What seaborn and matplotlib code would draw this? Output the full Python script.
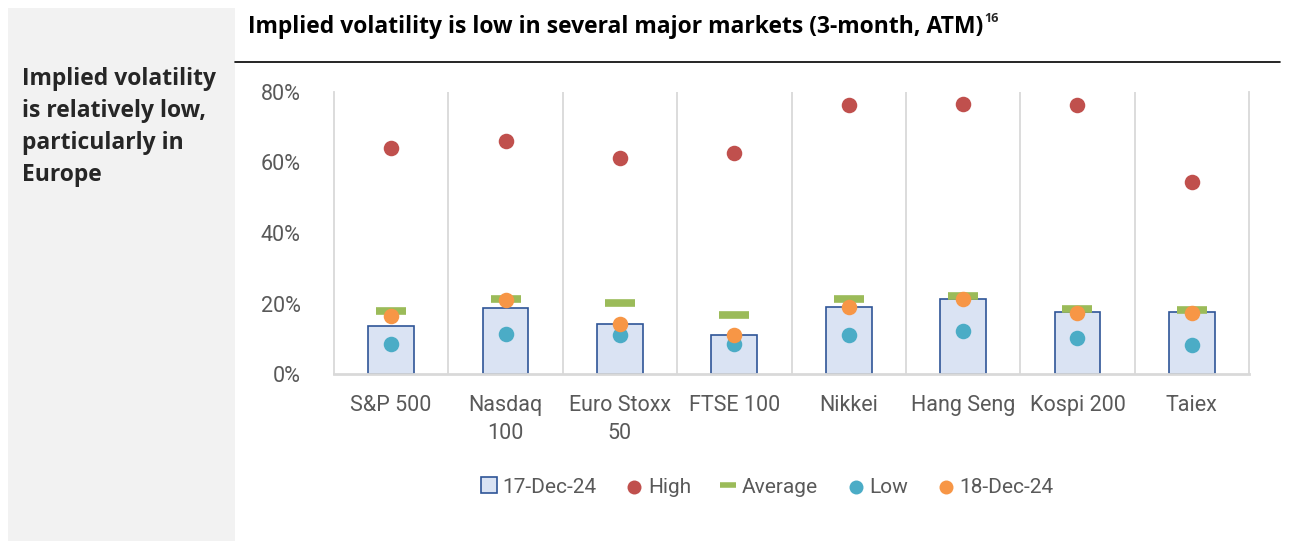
import numpy as np
import pandas as pd
import seaborn as sns
import matplotlib.pyplot as plt
from matplotlib.patches import Rectangle
from matplotlib.lines import Line2D

# Data (implied vol, 3-month ATM)
markets = ["S&P 500", "Nasdaq\n100", "Euro Stoxx\n50", "FTSE 100", "Nikkei",
           "Hang Seng", "Kospi 200", "Taiex"]
vol_17dec = [0.137, 0.186, 0.143, 0.110, 0.190, 0.212, 0.175, 0.175]
vol_high = [0.642, 0.661, 0.614, 0.627, 0.763, 0.766, 0.763, 0.545]
vol_avg = [0.180, 0.214, 0.202, 0.168, 0.214, 0.221, 0.184, 0.182]
vol_low = [0.084, 0.114, 0.110, 0.084, 0.112, 0.121, 0.102, 0.082]
vol_18dec = [0.165, 0.209, 0.142, 0.110, 0.191, 0.214, 0.172, 0.172]
y_ticks = [0.0, 0.2, 0.4, 0.6, 0.8]

# Colours
BAR_FILL = "#dae3f3"
BAR_EDGE = "#2f5597"
RED = "#c0504d"
GREEN = "#9bbb59"
BLUE = "#4bacc6"
ORANGE = "#f79646"
GRID = "#d9d9d9"
TXT = "#595959"
HEAD_FONT = ["Open Sans", "DejaVu Sans"]

sns.set_style("white")
plt.rcParams["font.family"] = ["Roboto", "DejaVu Sans"]

df = pd.DataFrame({"market": markets, "vol": vol_17dec})
pos = np.arange(len(markets))

fig = plt.figure(figsize=(12.91, 5.41), dpi=100)

# grey side panel
fig.patches.append(Rectangle((8 / 1291, 0), (235 - 8) / 1291, 1 - 8 / 541,
                             transform=fig.transFigure, facecolor="#f2f2f2",
                             edgecolor="none", zorder=0))

ax = fig.add_axes([334 / 1291, 1 - 374 / 541, (1249 - 334) / 1291, (374 - 92) / 541])

sns.barplot(data=df, x="market", y="vol", ax=ax, width=0.4, color=BAR_FILL,
            edgecolor=BAR_EDGE, linewidth=1.2, saturation=1, label="17-Dec-24", zorder=2)

ax.plot(pos, vol_avg, linestyle="none", marker="_", markersize=21, markeredgewidth=5.5,
        color=GREEN, label="Average", zorder=3)
sns.scatterplot(x=pos, y=vol_high, ax=ax, s=125, color=RED, linewidth=0, label="High", zorder=4)
sns.scatterplot(x=pos, y=vol_low, ax=ax, s=125, color=BLUE, linewidth=0, label="Low", zorder=5)
sns.scatterplot(x=pos, y=vol_18dec, ax=ax, s=125, color=ORANGE, linewidth=0,
                label="18-Dec-24", zorder=6)

ax.set_xlim(-0.5, len(markets) - 0.5)
ax.set_ylim(0, 0.8)
ax.set_yticks(y_ticks)
ax.set_yticklabels([f"{int(round(t * 100))}%" for t in y_ticks])
ax.set_xticks(pos)
ax.set_xticklabels(markets, linespacing=1.45)
ax.set_xlabel("")
ax.set_ylabel("")
ax.tick_params(axis="both", length=0, labelsize=15.5, labelcolor=TXT)
ax.tick_params(axis="y", pad=24)
ax.tick_params(axis="x", pad=15)

# category separators
for b in pos[:-1] + 0.5:
    ax.axvline(b, color=GRID, linewidth=1.3, zorder=1)
for side in ["left", "right"]:
    ax.spines[side].set_color(GRID)
    ax.spines[side].set_linewidth(1.3)
ax.spines["bottom"].set_color(GRID)
ax.spines["bottom"].set_linewidth(2)
ax.spines["top"].set_visible(False)

# legend in the order of the reference
h, l = ax.get_legend_handles_labels()
order = ["17-Dec-24", "High", "Average", "Low", "18-Dec-24"]
hd = dict(zip(l, h))
bar_handle = Rectangle((0, 0), 1, 1, facecolor=BAR_FILL, edgecolor=BAR_EDGE, linewidth=1.2)
avg_handle = Line2D([], [], linestyle="none", marker="_", markersize=13,
                    markeredgewidth=4, color=GREEN)
hd["17-Dec-24"] = bar_handle
hd["Average"] = avg_handle
ax.legend([hd[k] for k in order], order, loc="center", ncol=5, frameon=False,
          bbox_to_anchor=(767 / 1291, 1 - 487 / 541), bbox_transform=fig.transFigure,
          fontsize=15, labelcolor=TXT, handlelength=0.8, handleheight=0.8,
          handletextpad=0.25, columnspacing=1.4, markerscale=0.9)

# title with superscript note
title = fig.text(248 / 1291, 1 - 33 / 541,
                 "Implied volatility is low in several major markets (3-month, ATM)",
                 fontsize=16.5, fontweight="bold", color="black", family=HEAD_FONT)
fig.canvas.draw()
bb = title.get_window_extent()
fig.text(bb.x1 / fig.bbox.width + 0.001, 1 - 22 / 541, "16", fontsize=9,
         fontweight="bold", family=HEAD_FONT)

fig.add_artist(Line2D([235 / 1291, 1280 / 1291], [1 - 62 / 541, 1 - 62 / 541],
                      color="black", linewidth=1.2, transform=fig.transFigure))

fig.text(22 / 1291, 1 - 67 / 541,
         "Implied volatility\nis relatively low,\nparticularly in\nEurope",
         fontsize=16.5, fontweight="bold", va="top", linespacing=1.45,
         family=HEAD_FONT)

fig.savefig("out.png", dpi=100)
